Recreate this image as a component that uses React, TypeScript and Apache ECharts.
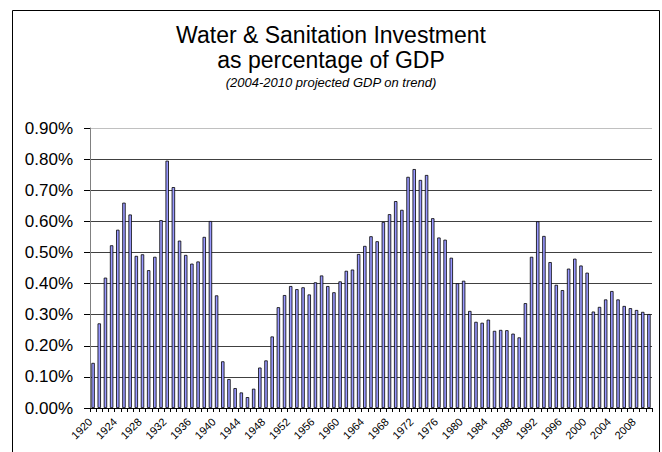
import React, { useEffect, useRef } from "react";
import * as echarts from "echarts";

const years: string[] = [];
for (let y = 1920; y <= 2010; y++) years.push(String(y));

const values1920s = [0.145, 0.272, 0.419, 0.523, 0.573, 0.660, 0.622, 0.489, 0.494, 0.443];
const values1930s = [0.486, 0.604, 0.795, 0.710, 0.538, 0.492, 0.464, 0.471, 0.550, 0.601];
const values1940s = [0.362, 0.150, 0.093, 0.064, 0.050, 0.035, 0.062, 0.130, 0.153, 0.230];
const values1950s = [0.324, 0.363, 0.392, 0.382, 0.388, 0.365, 0.404, 0.426, 0.392, 0.372];
const values1960s = [0.407, 0.441, 0.445, 0.495, 0.521, 0.552, 0.536, 0.598, 0.623, 0.665];
const values1970s = [0.637, 0.743, 0.768, 0.733, 0.749, 0.610, 0.548, 0.541, 0.483, 0.401];
const values1980s = [0.409, 0.312, 0.277, 0.274, 0.284, 0.248, 0.251, 0.250, 0.239, 0.227];
const values1990s = [0.337, 0.486, 0.600, 0.553, 0.469, 0.396, 0.379, 0.448, 0.480, 0.458];
const values2000s = [0.435, 0.310, 0.325, 0.349, 0.376, 0.349, 0.328, 0.321, 0.315, 0.309, 0.302];

const investmentPct = [
  ...values1920s, ...values1930s, ...values1940s, ...values1950s, ...values1960s,
  ...values1970s, ...values1980s, ...values1990s, ...values2000s,
];

const titleLines = ["Water & Sanitation Investment", "as percentage of GDP"];
const subtitle = "(2004-2010 projected GDP on trend)";

const FONT = "'Liberation Sans', Arial, sans-serif";

export default function App() {
  const ref = useRef<HTMLDivElement>(null);
  useEffect(() => {
    if (!ref.current) return;
    const chart = echarts.init(ref.current, undefined, { renderer: "svg" });
    chart.setOption({
      animation: false,
      backgroundColor: "#ffffff",
      title: [
        {
          text: titleLines.join("\n"),
          left: "center",
          top: 17,
          textStyle: { fontFamily: FONT, fontSize: 23, fontWeight: "normal", color: "#000", lineHeight: 25 },
        },
        {
          text: subtitle,
          left: "center",
          top: 70,
          textStyle: { fontFamily: FONT, fontSize: 13, fontStyle: "italic", fontWeight: "normal", color: "#000", lineHeight: 15 },
        },
      ],
      graphic: [
        {
          type: "rect",
          shape: { x: 12.5, y: 10.5, width: 647, height: 470 },
          style: { fill: "none", stroke: "#000", lineWidth: 1 },
          silent: true,
        },
      ],
      grid: { left: 90, right: 10, top: 128, bottom: 44 },
      xAxis: {
        type: "category",
        data: years,
        axisLine: { lineStyle: { color: "#000", width: 1 } },
        axisTick: { show: true, interval: 0, length: 4, alignWithLabel: false, lineStyle: { color: "#000" } },
        axisLabel: { interval: 3, rotate: 45, fontFamily: FONT, fontSize: 11, color: "#000", margin: 9, padding: [0, 4, 0, 0] },
      },
      yAxis: {
        type: "value",
        min: 0,
        max: 0.9,
        interval: 0.1,
        axisLine: { show: true, lineStyle: { color: "#808080", width: 1 } },
        axisTick: { show: true, length: 6, lineStyle: { color: "#000" } },
        axisLabel: {
          fontFamily: FONT,
          fontSize: 17,
          color: "#000",
          margin: 17,
          formatter: (v: number) => v.toFixed(2) + "%",
        },
        splitLine: {
          show: true,
          lineStyle: {
            color: ["#404040", "#404040", "#404040", "#404040", "#404040", "#404040", "#404040", "#404040", "#404040", "#c0c0c0"],
            width: 1,
          },
        },
      },
      series: [
        {
          type: "bar",
          data: investmentPct,
          barWidth: "55%",
          itemStyle: { color: "#9999ff", borderColor: "#000", borderWidth: 0.8 },
        },
      ],
    });
    return () => chart.dispose();
  }, []);
  return <div ref={ref} style={{ position: "absolute", left: 0, top: 0, width: 662, height: 452 }} />;
}
